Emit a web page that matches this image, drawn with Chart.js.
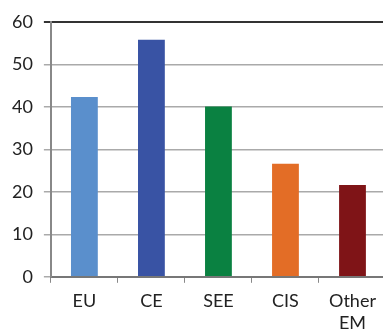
<!DOCTYPE html>
<html>
<head>
<meta charset="utf-8">
<script src="https://cdn.jsdelivr.net/npm/chart.js@4/dist/chart.umd.min.js"></script>
<style>
  html, body { margin: 0; padding: 0; background: #fff; overflow: hidden; }
  #wrap { width: 386px; height: 342px; }
</style>
</head>
<body>
<div id="wrap"><canvas id="chart"></canvas></div>
<script>
// regions and their values
const regions = ['EU', 'CE', 'SEE', 'CIS', ['Other', 'EM']];
const values = [42.3, 55.8, 40.1, 26.6, 21.6];
const barColors = ['#5a8fcc', '#3953a4', '#0a8141', '#e36d26', '#7f1417'];
const yTicks = [0, 10, 20, 30, 40, 50, 60];

const ctx = document.getElementById('chart');

new Chart(ctx, {
  type: 'bar',
  data: {
    labels: regions,
    datasets: [
      {
        data: values,
        backgroundColor: barColors,
        borderWidth: 0,
        categoryPercentage: 1,
        barPercentage: 0.4,
      },
    ],
  },
  options: {
    responsive: true,
    maintainAspectRatio: false,
    animation: false,
    layout: { padding: { top: 10, left: 1, right: 0, bottom: 0 } },
    plugins: {
      legend: { display: false },
      tooltip: { enabled: false },
    },
    scales: {
      x: {
        grid: {
          offset: true,
          drawOnChartArea: false,
          drawTicks: true,
          tickLength: 6,
          color: '#888',
        },
        border: { color: '#777', width: 2 },
        ticks: {
          color: '#222',
          padding: 8,
          font: { family: 'Lato', size: 18, lineHeight: 1.2 },
        },
      },
      y: {
        min: 0,
        max: 60,
        afterBuildTicks: (axis) => {
          axis.ticks = yTicks.map((v) => ({ value: v }));
        },
        grid: {
          color: (c) => (c.tick && c.tick.value === 60 ? '#333' : '#aaa'),
          lineWidth: (c) => (c.tick && c.tick.value === 60 ? 2 : 1.5),
          tickLength: 7,
        },
        border: { color: '#888', width: 2 },
        ticks: {
          color: '#222',
          padding: 11,
          font: { family: 'Lato', size: 18 },
        },
      },
    },
  },
});
</script>
</body>
</html>
